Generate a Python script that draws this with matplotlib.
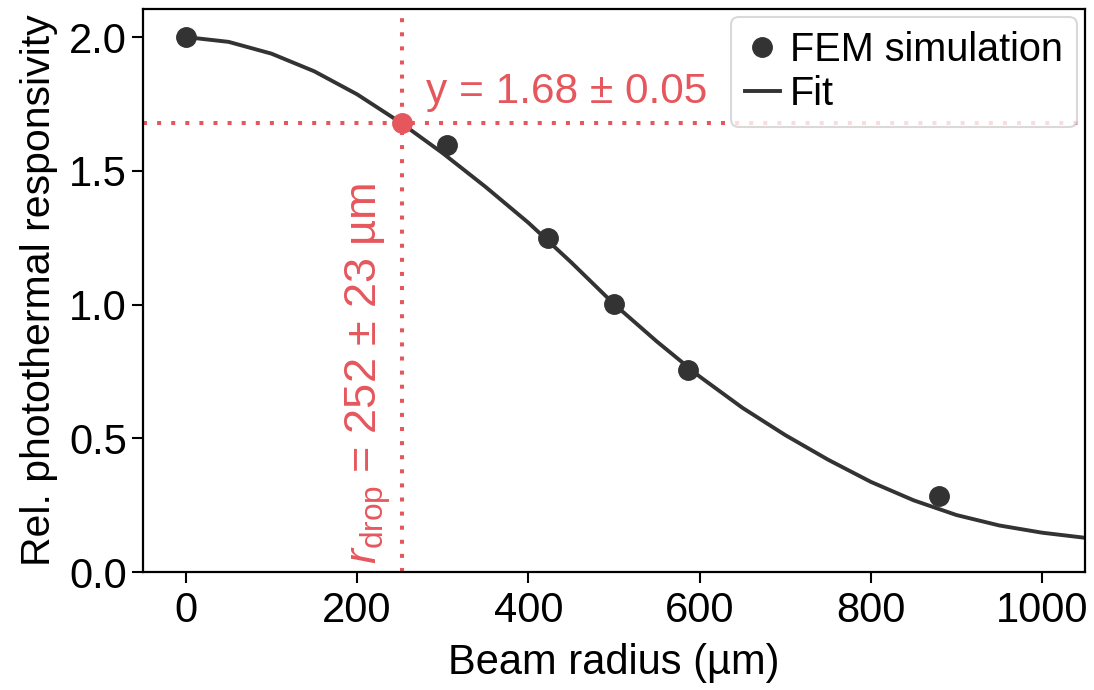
import numpy as np
import matplotlib
matplotlib.use("Agg")
import matplotlib.pyplot as plt

plt.rcParams['font.family'] = ['Liberation Sans', 'DejaVu Sans']
plt.rcParams['mathtext.fontset'] = 'custom'
plt.rcParams['mathtext.rm'] = 'Liberation Sans'
plt.rcParams['mathtext.it'] = 'Liberation Sans:italic'

# FEM simulation points
sim_r = [0, 305, 423, 500, 586, 880]
sim_y = [2.0, 1.596, 1.249, 1.002, 0.756, 0.285]

# fit curve, every 50 um
fit_r = [0, 50, 100, 150, 200, 250, 300, 350, 400, 450, 500, 550,
         600, 650, 700, 750, 800, 850, 900, 950, 1000, 1050]
fit_y = [2.000, 1.982, 1.938, 1.872, 1.786, 1.682, 1.566, 1.440, 1.306, 1.158,
         1.002, 0.862, 0.731, 0.614, 0.512, 0.420, 0.337, 0.268, 0.213, 0.174,
         0.147, 0.128]

r_drop = 252
y_drop = 1.68

dark = '#333333'
red = '#e5575d'

fig = plt.figure(figsize=(10.94, 6.9), dpi=100)
ax = fig.add_axes([0.1307, 0.171, 0.861, 0.816])

ax.axvline(r_drop, color=red, lw=2.9, ls=(0, (1, 2.5)), zorder=1)
ax.axhline(y_drop, color=red, lw=2.9, ls=(0, (1, 2.5)), zorder=1)

ax.plot(fit_r, fit_y, color=dark, lw=2.8, label='Fit', zorder=2)
ax.plot(sim_r, sim_y, 'o', color=dark, ms=14, label='FEM simulation', zorder=3)
ax.plot([r_drop], [y_drop], 'o', color=red, ms=14, zorder=4)

ax.text(280, 1.753, 'y = 1.68 ± 0.05', color=red,
        fontsize=30.5, ha='left', va='baseline')
ax.text(r_drop - 10, 0.03, r'$r_{\mathrm{drop}}$ = 252 ± 23 µm', color=red,
        fontsize=32.5, rotation=90, ha='right', va='bottom')

ax.set_xlim(-50, 1050)
ax.set_ylim(0, 2.105)
ax.set_xticks([0, 200, 400, 600, 800, 1000])
ax.set_yticks([0.0, 0.5, 1.0, 1.5, 2.0])
ax.set_xlabel('Beam radius (µm)', fontsize=30, labelpad=8)
ax.set_ylabel('Rel. photothermal responsivity', fontsize=29.5, labelpad=8)
ax.tick_params(labelsize=30, width=1.5, length=8)
ax.tick_params(axis='x', pad=6)
for s in ax.spines.values():
    s.set_linewidth(1.6)

handles, labels = ax.get_legend_handles_labels()
leg = ax.legend(handles[::-1], labels[::-1], loc='upper right', fontsize=28.5,
                handlelength=0.9, handletextpad=0.25, borderpad=0.35,
                labelspacing=0.15, borderaxespad=0.2, fancybox=True,
                framealpha=0.8)
leg.get_frame().set_linewidth(1.5)
leg.get_frame().set_edgecolor('#d0d0d0')

fig.savefig('out.png', dpi=100)
